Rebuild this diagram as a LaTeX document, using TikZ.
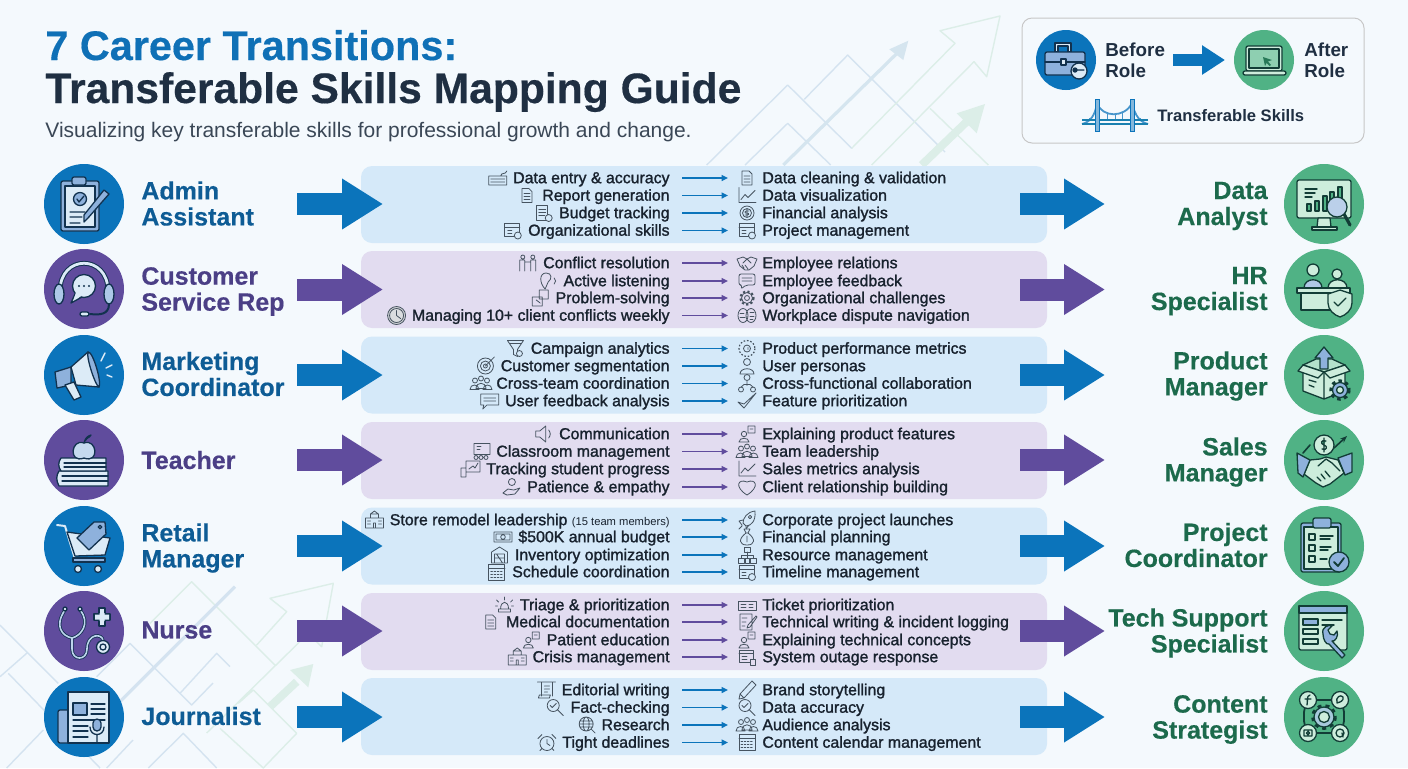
\documentclass[tikz,border=0pt]{standalone}
\usepackage{fontspec}
\setmainfont{Liberation Sans}
\newfontfamily\skillfont[FakeBold=1.4]{Liberation Sans}
\newfontfamily\headfont[BoldFeatures={FakeBold=0.4}]{Liberation Sans}
\usetikzlibrary{arrows.meta}
\definecolor{pagebg}{HTML}{F4F9FD}
\definecolor{roleblue}{HTML}{0B74BB}
\definecolor{rolepurple}{HTML}{604C9D}
\definecolor{rolegreen}{HTML}{50B285}
\definecolor{textblue}{HTML}{0E5C95}
\definecolor{textpurple}{HTML}{4B3F86}
\definecolor{textgreen}{HTML}{1C6A4C}
\definecolor{panelblue}{HTML}{D5E9F9}
\definecolor{panelpurple}{HTML}{E2DCF0}
\definecolor{titleblue}{HTML}{0F70B6}
\definecolor{titledark}{HTML}{1F2F42}
\definecolor{subgrey}{HTML}{3A4756}
\definecolor{skilldark}{HTML}{18222E}
\definecolor{icongrey}{HTML}{465360}
\definecolor{motifblue}{HTML}{D4E3F0}
\definecolor{motifgreen}{HTML}{DCEEE8}
\definecolor{bigline}{HTML}{12324F}
\definecolor{biglight}{HTML}{DCEBF7}
\definecolor{bigmid}{HTML}{8EB1DC}
\definecolor{greenline}{HTML}{123D36}
\definecolor{greenlight}{HTML}{CDEDDC}
\tikzset{
ic/.style={draw=icongrey,line width=.4pt,line join=round,line cap=round},
bigic/.style={draw=bigline,line width=.65pt,line join=round,line cap=round},
grnic/.style={draw=greenline,line width=.65pt,line join=round,line cap=round},
keybdic/.pic={\draw[ic] (-9,-2) rectangle (9,7) (-7,1)--(7,1) (-7,4)--(7,4) (3,-2) .. controls (3,-6) and (8,-3) .. (9,-7);},
docic/.pic={\draw[ic] (-5,-7)--(2,-7)--(5,-4)--(5,7)--(-5,7)--cycle (-3,-2)--(3,-2) (-3,1)--(3,1) (-3,4)--(3,4);},
sheetic/.pic={\draw[ic] (-7,-8) rectangle (4,7) (-5,-4)--(2,-4) (-5,-1)--(2,-1) (-5,2)--(1,2); \draw[ic,fill=panelblue] (5,5) circle (3.5);},
calclockic/.pic={\draw[ic] (-8,-7) rectangle (7,6) (-8,-3)--(7,-3) (-5,0)--(-1,0) (-5,3)--(-1,3); \draw[ic,fill=panelblue] (5,5) circle (3.5);},
chartic/.pic={\draw[ic] (-8,-8)--(-8,7)--(9,7) (-6,4)--(-2,-1)--(1,2)--(8,-5);},
coinic/.pic={\draw[ic] (0,0) circle (7) (0,0) circle (4.5) (0,-3.5)--(0,3.5) (2,-2) .. controls (-3,-3) and (-3,1) .. (0,0) .. controls (3,0) and (2,3) .. (-2,2);},
peopleic/.pic={\draw[ic] (-5,-6) circle (2) (5,-6) circle (2) (-8,8)--(-8,-3)--(-3,-3)--(-3,8) (3,8)--(3,-3)--(8,-3)--(8,8) (-3,-1)--(3,-1);},
earic/.pic={\draw[ic] (-3,8) .. controls (-9,2) and (-9,-8) .. (-2,-8) .. controls (4,-8) and (4,-2) .. (0,1) .. controls (-2,3) and (-1,6) .. (-3,8) (6,-3) .. controls (8,-1) and (8,1) .. (6,3);},
puzzleic/.pic={\draw[ic] (-8,-1) rectangle (2,8) (-1,-8) rectangle (8,1) (-4,2)--(0,5);},
clockic/.pic={\draw[ic,fill=icongrey!25] (0,0) circle (9); \draw[ic,fill=white!80!icongrey] (0,0) circle (7); \draw[ic] (0,-5)--(0,0)--(4,3);},
shakeic/.pic={\draw[ic] (-10,-4)--(-4,-6)--(0,-4)--(4,-6)--(10,-4)--(7,3)--(2,7)--(-2,7)--(-7,3)--cycle (-4,0)--(0,-4)--(4,0) (-3,5)--(-5,2) (1,6)--(-2,2);},
bubbleic/.pic={\draw[ic,rounded corners=1pt] (-8,-7)--(8,-7)--(8,4)--(-1,4)--(-6,8)--(-5,4)--(-8,4)--cycle (-5,-3)--(5,-3) (-5,0)--(5,0);},
gearic/.pic={\draw[draw=icongrey,line width=1.1pt,dash pattern=on 1.1pt off 1.1pt] (0,0) circle (6.5); \draw[ic] (0,0) circle (5.5) (0,0) circle (2.5);},
brainic/.pic={\draw[ic] (-4,0) ellipse (5 and 7) (4,0) ellipse (5 and 7) (-7,-2)--(-3,-2) (-7,2)--(-2,2) (3,-3)--(7,-3) (3,1)--(7,1) (3,4)--(6,4);},
funnelic/.pic={\draw[ic] (-8,-8)--(8,-8)--(2,1)--(2,8)--(-2,6)--(-2,1)--cycle (-6,-5)--(6,-5); \draw[ic,fill=panelblue] (4,5) circle (3);},
targetic/.pic={\draw[ic] (0,0) circle (8) (0,0) circle (5) (0,0) circle (2) (0,0)--(9,-9);},
teamic/.pic={\draw[ic] (-6,-3) circle (2.5) (6,-3) circle (2.5) (0,-5) circle (2.5) (-11,6) .. controls (-11,0) and (-2,0) .. (-2,6)--cycle (2,6) .. controls (2,0) and (11,0) .. (11,6)--cycle (-5,5) .. controls (-5,-2) and (5,-2) .. (5,5)--cycle;},
chatic/.pic={\draw[ic] (-9,-7)--(9,-7)--(9,4)--(-3,4)--(-7,8)--(-6,4)--(-9,4)--cycle (-6,-3)--(6,-3) (-6,0)--(6,0);},
dotgearic/.pic={\draw[draw=icongrey,line width=.6pt,dash pattern=on .8pt off .9pt] (0,0) circle (8); \draw[ic] (0,0) circle (3.5) (1,-1)--(1,1);},
personic/.pic={\draw[ic] (0,-4) circle (3.5) (-7,8) .. controls (-7,1) and (7,1) .. (7,8)--cycle;},
netic/.pic={\draw[ic] (0,-6) circle (3) (-6,6) circle (2.5) (6,6) circle (2.5) (0,-3)--(0,2) (-6,3.5)--(-3,1)--(3,1)--(6,3.5);},
checkic/.pic={\draw[ic] (-9,1)--(-3,7)--(9,-8)--(-3,3)--cycle;},
speakic/.pic={\draw[ic] (-8,-3)--(-4,-3)--(2,-8)--(2,8)--(-4,3)--(-8,3)--cycle (5,-4) .. controls (7,-1) and (7,1) .. (5,4);},
boardic/.pic={\draw[ic] (-7,-8) rectangle (9,3) (-4,-5)--(0,-5) (-4,-2)--(-1,-2) (-5,6) circle (2) (0,6) circle (2) (5,6) circle (2);},
trackic/.pic={\draw[ic] (-5,-8) rectangle (9,3) (-2,0)--(2,-3)--(4,-1)--(7,-6) (-10,8)--(-10,-1)--(-5,-1)--(-5,8)--cycle;},
handic/.pic={\draw[ic] (0,-5) circle (3.5) (-9,6)--(-4,2)--(2,3)--(8,1)--(3,7)--(-5,8)--cycle;},
talkic/.pic={\draw[ic] (-3,0) circle (2.7) (-8,8) .. controls (-8,3) and (2,3) .. (2,8)--cycle (1,-8) rectangle (8,-1) (3,-5)--(6,-5);},
heartic/.pic={\draw[ic] (0,8) .. controls (-13,0) and (-9,-9) .. (0,-5) .. controls (9,-9) and (13,0) .. (0,8)--cycle;},
bldgic/.pic={\draw[ic] (-9,8) rectangle (9,-2) (-4,-2) rectangle (4,-6) (-4,-6)--(0,-9)--(4,-6) (-7,1)--(-4,1) (4,1)--(7,1) (-7,4)--(-4,4) (4,4)--(7,4) (-1,8)--(-1,3)--(1,3)--(1,8);},
cashic/.pic={\draw[ic] (-9,-5) rectangle (9,5) (-7,-3) rectangle (7,3) (0,0) circle (2.3);},
wareic/.pic={\draw[ic] (-8,8)--(-8,-3)--(0,-8)--(8,-3)--(8,8)--cycle (-5,8)--(-5,-1)--(5,-1)--(5,8) (-5,3)--(5,3) (-3,-1)--(3,8);},
calgridic/.pic={\draw[ic] (-8,-8) rectangle (8,8) (-8,-4)--(8,-4); \draw[ic,dash pattern=on .8pt off .8pt] (-6,-1)--(6,-1) (-6,2)--(6,2) (-6,5)--(6,5);},
rocketic/.pic={\draw[ic] (8,-9) .. controls (0,-8) and (-4,-2) .. (-4,3)--(-1,6) .. controls (4,6) and (9,1) .. (8,-9)--cycle (-4,0)--(-8,1)--(-5,5) (-1,6)--(-1,9)--(2,5) (-5,6)--(-8,9) (3,-3) circle (1.7);},
bagic/.pic={\draw[ic] (-3,-8)--(3,-8)--(1,-4)--(-1,-4)--cycle (-1,-4) .. controls (-9,2) and (-8,8) .. (0,8) .. controls (8,8) and (9,2) .. (1,-4) (0,-1)--(0,5);},
orgic/.pic={\draw[ic] (-3,-8) rectangle (3,-3) (0,-3)--(0,3) (-6,3)--(-6,0)--(6,0)--(6,3) (-9,3) rectangle (-3,8) (-2,3) rectangle (2,8) (3,3) rectangle (9,8);},
sirenic/.pic={\draw[ic] (-6,4) rectangle (6,7) (-4,4) .. controls (-4,-5) and (4,-5) .. (4,4) (0,-5)--(0,-8) (-6,-3)--(-8,-5) (6,-3)--(8,-5) (-7,1)--(-9,1) (7,1)--(9,1);},
ticketic/.pic={\draw[ic] (-9,-4) rectangle (9,5) (-6,-1)--(-1,-1) (-6,2)--(-1,2) (2,-1)--(6,-1) (2,2)--(6,2);},
penic/.pic={\draw[ic] (-8,9)--(-7,4)--(5,-9)--(9,-5)--(-3,8)--cycle (-7,4)--(-3,8);},
scrollic/.pic={\draw[ic] (-5,-8)--(9,-8) (-9,-8)--(-5,-8)--(-5,6) (6,-8)--(6,6) (-8,8)--(3,8)--(4,5)--(-7,5)--cycle (-2,-4)--(3,-4) (-2,-1)--(3,-1) (-2,2)--(1,2);},
magic/.pic={\draw[ic] (-2,-2) circle (6) (2,2)--(8,8) (-5,-2)--(-3,0)--(1,-4);},
globeic/.pic={\draw[ic] (0,-1) circle (7) (0,-1) ellipse (3 and 7) (-7,-1)--(7,-1) (-6,-4)--(6,-4) (-6,2)--(6,2) (5,4)--(9,8);},
alarmic/.pic={\draw[ic] (0,1) circle (7) (0,-3)--(0,1)--(3,3) (-9,-4)--(-5,-8) (9,-4)--(5,-8) (-5,6)--(-7,8) (5,6)--(7,8);},
screenic/.pic={\draw[ic] (-8,-7) rectangle (6,5) (-8,-4)--(6,-4) (-5,-1)--(0,-1) (-5,2)--(0,2); \draw[ic,fill=panelpurple] (3,2)--(8,2)--(8,8)--(3,8)--cycle;},
docpenic/.pic={\draw[ic] (-7,-8) rectangle (5,8) (-5,-4)--(0,-4) (-5,0)--(-1,0) (-5,4)--(-2,4) (9,-6)--(1,3)--(0,6)--(3,5)--(10,-5)--cycle;},
adminic/.pic={\draw[bigic,fill=bigmid,rounded corners=1pt] (-23,-23) rectangle (15,27);
\draw[bigic,fill=biglight] (-19,-18) rectangle (11,23);
\draw[bigic,fill=bigmid,rounded corners=1pt] (-12,-27) rectangle (2,-19);
\draw[bigic,fill=bigmid] (-4,-5) circle (6.5);
\draw[bigic] (-7,-5)--(-5,-2)--(0,-8) (-14,8)--(1,8) (-14,13)--(-2,13) (-14,19)--(-4,19);
\draw[bigic,fill=bigmid] (20,-14)--(25,-10)--(4,14)--(0,18)--(0,11)--cycle;},
headsetic/.pic={\draw[line width=2.4pt,draw=bigline] (-24,2) .. controls (-24,-35) and (24,-35) .. (24,2);
\draw[line width=1.4pt,draw=biglight] (-24,2) .. controls (-24,-35) and (24,-35) .. (24,2);
\draw[bigic,fill=bigmid!60!biglight] (-25,5) ellipse (5 and 10) (25,5) ellipse (5 and 10);
\draw[bigic,fill=biglight] (-9,5)--(-13,14)--(-2,8)--cycle (0,-3) circle (11.5);
\fill[biglight] (-8,3)--(-10,10)--(-2,7)--cycle;
\fill[bigline] (-5,-3) circle (1.2) (0,-3) circle (1.2) (5,-3) circle (1.2);
\draw[bigic,line width=1pt] (25,15) .. controls (25,26) and (15,26) .. (6,25);
\draw[bigic,fill=biglight,rounded corners=1pt] (-4,23) rectangle (5,27);},
megaic/.pic={\draw[bigic,fill=bigmid] (-29,-3)--(-13,-8)--(-13,10)--(-27,13)--cycle;
\draw[bigic,fill=biglight] (-19,10)--(-10,7)--(-3,22)--(-10,25)--cycle;
\draw[bigic,fill=biglight] (-13,-8)--(4,-23)--(15,12)--(-8,10)--cycle;
\draw[bigic,fill=bigmid] (4,-23) .. controls (9,-24) and (18,8) .. (15,12) .. controls (12,12) and (2,-17) .. (4,-23)--cycle;
\draw[biglight,line width=.7pt,line cap=round] (17,-14)--(21,-22) (22,-7)--(28,-10) (23,0)--(28,2);},
teacheric/.pic={\draw[bigic,fill=biglight] (-25,11)--(24,11)--(24,26)--(-25,26) .. controls (-28,20) and (-28,16) .. (-25,11)--cycle;
\draw[bigic] (-22,16)--(24,16) (-22,21)--(24,21);
\draw[bigic,fill=biglight] (-23,-2)--(22,-2)--(22,11)--(-23,11) .. controls (-26,7) and (-26,2) .. (-23,-2)--cycle;
\draw[bigic] (-20,3)--(22,3) (-20,7)--(22,7);
\draw[bigic,fill=biglight!70!bigmid] (0,-2) .. controls (-16,4) and (-13,-22) .. (0,-17) .. controls (13,-22) and (16,4) .. (0,-2)--cycle;
\draw[bigic] (0,-17) .. controls (1,-21) and (3,-24) .. (7,-25) (1,-19) .. controls (5,-25) and (7,-22) .. (7,-25);},
cartic/.pic={\draw[bigic,line width=1pt,draw=biglight] (-27,-21)--(-19,-20)--(-9,13)--(21,13);
\draw[bigic,fill=biglight] (-17,-14)--(26,-8)--(21,9)--(-9,10)--cycle;
\draw[bigic,fill=bigmid] (-7,-8)--(10,-24)--(21,-24)--(22,-12)--(5,4)--cycle (16,-19) circle (1.8);
\draw[bigic,fill=bigmid] (-11,12) rectangle (21,16);
\draw[bigic,fill=biglight] (-6,23) circle (3.5) (14,23) circle (3.5);},
nurseic/.pic={\draw[line width=1.6pt,draw=bigline,line cap=round] (-19,-21) .. controls (-30,-5) and (-22,5) .. (-12,7) .. controls (-3,5) and (7,-8) .. (-4,-21) (-12,7)--(-12,18) .. controls (-12,30) and (3,30) .. (3,18) .. controls (3,2) and (19,2) .. (19,10);
\draw[line width=.8pt,draw=biglight!60!bigmid,line cap=round] (-19,-21) .. controls (-30,-5) and (-22,5) .. (-12,7) .. controls (-3,5) and (7,-8) .. (-4,-21) (-12,7)--(-12,18) .. controls (-12,30) and (3,30) .. (3,18) .. controls (3,2) and (19,2) .. (19,10);
\draw[bigic,fill=biglight] (-19,-22) circle (2) (-4,-22) circle (2) (19,16) circle (6.5) (19,16) circle (3);
\draw[bigic,fill=biglight] (15,-23) rectangle (21,-17) (10,-17) rectangle (26,-11) (15,-11) rectangle (21,-5);
\fill[biglight] (15.5,-18) rectangle (20.5,-10) (11,-16.5) rectangle (25,-11.5);},
newsic/.pic={\draw[bigic,fill=bigmid,rounded corners=1pt] (-26,-7) rectangle (-12,26);
\draw[bigic,fill=biglight] (-16,-25) rectangle (25,26);
\draw[bigic,fill=bigmid] (-11,-14) rectangle (3,-2);
\draw[bigic] (7,-13)--(21,-13) (7,-8)--(21,-8) (7,-3)--(21,-3) (-11,3)--(21,3) (-11,9)--(4,9) (-11,14)--(4,14) (-11,20)--(4,20);
\draw[bigic,fill=bigmid,rounded corners=2pt] (9,2) rectangle (17,14);
\draw[bigic] (6,10) .. controls (6,20) and (20,20) .. (20,10) (13,18)--(13,25);},
analystic/.pic={\draw[grnic,fill=greenlight,rounded corners=1pt] (-27,-24) rectangle (27,14);
\draw[grnic,fill=greenlight] (-6,14)--(6,14)--(7,23)--(-7,23)--cycle;
\draw[grnic,fill=greenlight] (-12,23) rectangle (13,26);
\draw[grnic] (-19,-15)--(-7,-15) (-19,-11)--(-9,-11) (-19,-7)--(-12,-7);
\draw[grnic,fill=rolegreen] (-17,0) rectangle (-13,7) (-9,-3) rectangle (-5,7) (-1,-8) rectangle (3,7) (6,-12) rectangle (10,7) (14,-17) rectangle (18,7);
\draw[line width=1.6pt,draw=greenline,line cap=round] (20,10)--(26,21);
\draw[grnic,fill=bigmid!60!white] (13,3) circle (10);},
hric/.pic={\draw[grnic,fill=bigmid!70!white] (-20,-1) .. controls (-20,-12) and (-2,-12) .. (-2,-1)--cycle;
\draw[grnic,fill=greenlight] (-11,-19) circle (6);
\draw[grnic,fill=greenlight] (4,-1) .. controls (4,-12) and (23,-12) .. (23,-1)--cycle (13,-15) circle (5);
\draw[grnic,fill=greenlight] (-23,4) rectangle (8,21);
\draw[grnic,fill=greenlight] (-27,-1) rectangle (26,4);
\draw[grnic,fill=greenlight] (4,5)--(16,1)--(28,5)--(28,14) .. controls (28,21) and (22,26) .. (16,28) .. controls (10,26) and (4,21) .. (4,14)--cycle;
\draw[grnic] (10,13)--(14,17)--(22,9);},
productic/.pic={\draw[grnic,fill=greenlight] (-21,-10)--(0,-3)--(0,24)--(-21,16)--cycle (21,-10)--(0,-3)--(0,24)--(21,16)--cycle;
\draw[grnic,fill=greenlight!80!rolegreen] (-21,-10)--(-8,-16)--(8,-16)--(21,-10)--(0,-3)--cycle;
\draw[grnic,fill=greenlight] (-21,-10)--(-26,-4)--(-6,3)--(0,-3)--cycle (21,-10)--(26,-4)--(6,3)--(0,-3)--cycle;
\draw[grnic,fill=bigmid] (-4,-6)--(-4,-17)--(-9,-17)--(0,-28)--(9,-17)--(4,-17)--(4,-6)--cycle;
\draw[grnic] (-15,5)--(-8,7) (-15,10)--(-10,12);
\draw[draw=greenline,line width=2.2pt,dash pattern=on 1.6pt off 1.6pt] (16,15) circle (8.5);
\draw[grnic,fill=bigmid] (16,15) circle (7.5);
\draw[grnic,fill=greenlight] (16,15) circle (3.5);},
salesic/.pic={\draw[grnic,fill=greenlight] (0,-15) circle (10) (2,-19) .. controls (-3,-21) and (-4,-16) .. (0,-15) .. controls (4,-14) and (3,-9) .. (-2,-11) (0,-22)--(0,-8);
\draw[grnic,line width=.8pt,-{Stealth[length=3.5pt]}] (-21,-7)--(-14,-15) (10,-12)--(23,-24);
\draw[grnic,fill=greenlight] (-14,0)--(-4,-1)--(2,-3)--(14,0)--(20,13)--(6,24)--(-1,27)--(-8,23)--(-20,14)--cycle;
\draw[grnic] (-6,6)--(2,-1)--(8,3)--(16,11) (-7,17)--(-3,21) (-3,14)--(1,19) (1,11)--(6,17);
\draw[grnic,fill=bigmid] (-27,-7)--(-14,0)--(-21,17)--(-26,13)--cycle (28,-7)--(14,-2)--(21,15)--(28,12)--cycle;},
projectic/.pic={\draw[grnic,fill=bigmid,rounded corners=1pt] (-23,-23) rectangle (17,26);
\draw[grnic,fill=greenlight] (-20,-19) rectangle (14,23);
\draw[grnic,fill=bigmid,rounded corners=1pt] (-11,-28) rectangle (7,-18);
\draw[grnic] (-15,-12) rectangle (-9,-6) (-15,-1) rectangle (-9,5) (-15,10) rectangle (-9,16) (-4,-10)--(9,-10) (-4,-7)--(6,-7) (-4,1)--(7,1) (-4,4)--(4,4) (-4,13)--(3,13);
\draw[grnic,fill=bigmid] (15,16) circle (10);
\draw[grnic,line width=.9pt] (10,16)--(14,20)--(20,12);},
techic/.pic={\draw[grnic,fill=greenlight,rounded corners=1pt] (-25,-25) rectangle (23,19);
\draw[grnic,fill=bigmid] (-25,-25) rectangle (23,-18);
\draw[grnic,fill=bigmid] (-21,-12) rectangle (-6,-6);
\draw[grnic] (-21,-2) rectangle (-6,3) (-21,8) rectangle (-6,13) (-2,-11)--(18,-11) (-2,-6)--(10,-6);
\draw[grnic,fill=bigmid] (-1,3) .. controls (-3,-4) and (5,-7) .. (8,-5)--(4,-1)--(6,3)--(10,4)--(13,0) .. controls (15,5) and (11,11) .. (8,10)--(21,24)--(18,27)--(5,13) .. controls (2,14) and (-1,8) .. (-1,3)--cycle;},
contentic/.pic={\draw[grnic,line width=.9pt,rounded corners=6pt] (-20,-17) rectangle (20,16);
\draw[draw=greenline,line width=2.4pt,dash pattern=on 1.8pt off 1.8pt] (0,0) circle (10.5);
\draw[grnic,fill=bigmid!60!greenlight] (0,0) circle (10);
\draw[grnic,fill=greenlight] (0,0) circle (5.5);
\draw[grnic,fill=greenlight] (-16,-17) circle (8.5) (16,-17) circle (8.5) (-16,16) circle (8.5) (16,16) circle (8.5);
\draw[grnic] (-14,-22) .. controls (-18,-21) and (-16,-16) .. (-17,-12) (-19,-18)--(-13,-18) (13,-14) .. controls (11,-20) and (17,-23) .. (19,-20) .. controls (20,-16) and (16,-15) .. (13,-14) (-20,13) rectangle (-12,19) (-16,16) circle (1.6) (16,16) circle (4) (18,16)--(19,20);},
beforeic/.pic={\draw[bigic,fill=biglight] (-11,-8)--(-11,-17)--(5,-17)--(5,-8)--(2,-8)--(2,-14)--(-8,-14)--(-8,-8)--cycle;
\draw[bigic,fill=bigmid,rounded corners=1pt] (-21,-8) rectangle (19,15);
\draw[bigic] (-21,2)--(19,2);
\draw[bigic,fill=biglight] (-5,-1) rectangle (0,5);
\draw[bigic,fill=biglight] (13,11) circle (8);
\draw[bigic,fill=bigline] (9,10) circle (2) (11,10)--(18,10);},
afteric/.pic={\draw[grnic,fill=greenlight,rounded corners=1pt] (-18,-14) rectangle (18,11);
\draw[grnic,fill=rolegreen!50!greenlight] (-15,-11) rectangle (15,8);
\fill[textgreen!80!rolegreen] (-1,-3)--(8,0)--(4,1.5)--(7,5)--(5.5,6)--(2.5,3)--(1,6)--cycle;
\draw[grnic,fill=greenlight,rounded corners=1pt] (-21,11) rectangle (22,15);},
bridgeic/.pic={\draw[line width=.9pt,draw=roleblue!70!motifblue] (-33,8) .. controls (-25,6) and (-20,0) .. (-18,-13) .. controls (-13,2) and (10,2) .. (17,-13) .. controls (20,0) and (25,6) .. (33,8);
\draw[line width=.5pt,draw=roleblue!70!motifblue] (-26,2)--(-26,5) (-8,-4)--(-8,5) (0,-1)--(0,5) (7,-4)--(7,5) (25,2)--(25,5);
\draw[line width=1.1pt,draw=roleblue!80!rolegreen] (-33,4)--(33,4) (-33,8)--(33,8);
\draw[draw=roleblue,line width=.5pt,fill=roleblue!40!motifblue] (-20,-17) rectangle (-16,15) (15,-17) rectangle (19,15);},
sysbox/.style={draw=none,rectangle,inner sep=0pt,minimum width=343pt,minimum height=38.5pt,rounded corners=5.5pt},
rolecirc/.style={circle,draw=none,inner sep=0pt,minimum size=40pt},
legcirc/.style={circle,draw=none,inner sep=0pt,minimum size=30pt},
rolename/.style={font=\headfont\bfseries\fontsize{12.5}{13}\selectfont,inner sep=0pt},
rolel/.style={rolename,anchor=west,align=left},
roler/.style={rolename,anchor=east,align=right},
skillleft/.style={font=\skillfont\fontsize{7.95}{9}\selectfont,text=skilldark,anchor=east,inner sep=0pt,text height=7pt,text depth=1.8pt},
skillright/.style={skillleft,anchor=west},
skillarrow/.style={line width=.65pt,-{Triangle[length=3.2pt,width=3pt]},shorten <=6pt,shorten >=17pt},
bigarrow/.style={line width=11pt,-{Triangle[length=20.5pt,width=24pt]}},
motifline/.style={line width=.7pt,line join=round},
}
\newcommand{\skillline}[7]{
\draw (670,#1) node[skillleft] (s#3) {#5};
\draw (762,#1) node[skillright] (t#3) {#7};
\draw[skillarrow,#2] (s#3.east) -- (t#3.west);
\pic at ([xshift=-7.5pt]s#3.west) {#4};
\pic at ([xshift=-7.5pt]t#3.west) {#6};
}
\newcommand{\rowarrows}[3]{
\coordinate (la#3) at (297,#1);
\coordinate (lb#3) at (383,#1);
\coordinate (ra#3) at (1020,#1);
\coordinate (rb#3) at (1105,#1);
\draw[bigarrow,#2] (la#3) -- (lb#3);
\draw[bigarrow,#2] (ra#3) -- (rb#3);
}
\begin{document}
\begin{tikzpicture}[x=.5pt,y=-.5pt]
\useasboundingbox (0,0) rectangle (1408,768);
\fill[pagebg] (0,0) rectangle (1408,768);
\draw[motifline,motifblue] (706.7,165)--(787.7,85)--(851.7,148.3) (745,165)--(787.7,123.3)--(830.7,165) (804.3,99.3)--(847.7,55)--(945,152);
\draw[motifline,motifgreen] (851.7,148.3)--(955,43.3)--(940,30.7)--(1000,16)--(986.7,76.7)--(974,61.7)--(871.7,165) (930,108.3)--(988.3,165);
\draw[motifblue!85!motifgreen,line width=1.6pt] (783.3,165)--(897,53.3);
\fill[motifblue!85!motifgreen] (908.3,40.7)--(889.3,49.3)--(903.3,60)--cycle;
\draw[motifgreen,line width=4pt] (921.7,165)--(966.7,121.7);
\fill[motifgreen] (985,104)--(956.7,113.3)--(976.7,133.3)--cycle;
\draw[motifline,motifblue] (0,625)--(58.3,683.3) (0,676.7)--(26.7,653.3) (8.3,673.3)--(100,768) (96.7,676.7)--(130,643.3)--(180,693.3)--(216.7,653.3)--(230,666.7) (180,693.3)--(191.7,705)--(213,683) (6.7,768)--(43.3,730) (148.3,768)--(183.3,733.3)--(216.7,768) (106.7,768)--(133,740);
\draw[motifline,motifgreen] (150,623.3)--(191.7,581.7)--(275,665) (256.7,645)--(286.7,611.7)--(270,598.3)--(333.3,583.3)--(321.7,646.7)--(308.3,633.3)--(206.7,733) (220,728.3)--(263.3,768)--(296.7,733.3)--(253.3,690)--(238.3,703.3);
\draw[motifblue,line width=1.6pt] (120,701.7)--(235,586.7);
\draw[motifgreen,line width=4pt] (270,706.7)--(296.7,681.7);
\fill[motifgreen] (313.3,664)--(290,670)--(308.3,687.3)--cycle;
\draw (704,204.5) node[sysbox,fill=panelblue] (panel1) {};
\draw (704,289.5) node[sysbox,fill=panelpurple] (panel2) {};
\draw (704,375) node[sysbox,fill=panelblue] (panel3) {};
\draw (704,460.5) node[sysbox,fill=panelpurple] (panel4) {};
\draw (704,546) node[sysbox,fill=panelblue] (panel5) {};
\draw (704,631.5) node[sysbox,fill=panelpurple] (panel6) {};
\draw (704,716.5) node[sysbox,fill=panelblue] (panel7) {};
\rowarrows{204}{roleblue}{1}
\rowarrows{289.5}{rolepurple}{2}
\rowarrows{375}{roleblue}{3}
\rowarrows{460}{rolepurple}{4}
\rowarrows{546}{roleblue}{5}
\rowarrows{631}{rolepurple}{6}
\rowarrows{717}{roleblue}{7}
\draw (45,60) node[anchor=base west,inner sep=0pt,font=\headfont\bfseries\fontsize{20.7}{22}\selectfont,text=titleblue] (title1) {7 Career Transitions:};
\draw (45,103) node[anchor=base west,inner sep=0pt,font=\headfont\bfseries\fontsize{21.3}{22}\selectfont,text=titledark] (title2) {Transferable Skills Mapping Guide};
\draw (45,137) node[anchor=base west,inner sep=0pt,font=\fontsize{10.5}{12}\selectfont,text=subgrey] (subtitle) {Visualizing key transferable skills for professional growth and change.};
\draw (1193,80.5) node[rectangle,draw=black!22,fill=pagebg,line width=.5pt,inner sep=0pt,minimum width=171pt,minimum height=62.5pt,rounded corners=5pt] (legend) {};
\draw (1066,60) node[legcirc,fill=roleblue] (beforecirc) {};
\pic at (beforecirc) {beforeic};
\draw (1105,60) node[anchor=west,align=left,inner sep=0pt,font=\bfseries\fontsize{9.4}{10.5}\selectfont,text=titledark] (before) {Before\\Role};
\draw (1264,60) node[legcirc,fill=rolegreen] (aftercirc) {};
\pic at (aftercirc) {afteric};
\draw (1304,60) node[anchor=west,align=left,inner sep=0pt,font=\bfseries\fontsize{9.4}{10.5}\selectfont,text=titledark] (after) {After\\Role};
\coordinate (lega) at (1173,60);
\coordinate (legb) at (1225,60);
\draw[roleblue,line width=6pt,-{Triangle[length=11.5pt,width=14pt]}] (lega) -- (legb);
\pic at (1115,116) {bridgeic};
\draw (1157,116) node[anchor=west,inner sep=0pt,font=\bfseries\fontsize{8.3}{10}\selectfont,text=titledark] (bridge) {Transferable Skills};
\draw (84,204) node[rolecirc,fill=roleblue] (admin) {};
\pic at (admin) {adminic};
\draw (141,203.5) node[rolel,text=textblue] (adminname) {Admin\\Assistant};
\draw (84,289) node[rolecirc,fill=rolepurple] (service) {};
\pic at (service) {headsetic};
\draw (141,291.5) node[rolel,text=textpurple] (servicename) {Customer\\Service Rep};
\draw (84,375) node[rolecirc,fill=roleblue] (marketing) {};
\pic at (marketing) {megaic};
\draw (141,374) node[rolel,text=textblue] (marketingname) {Marketing\\Coordinator};
\draw (84,460) node[rolecirc,fill=rolepurple] (teacher) {};
\pic at (teacher) {teacheric};
\draw (141,460) node[rolel,text=textpurple] (teachername) {Teacher};
\draw (84,546) node[rolecirc,fill=roleblue] (retail) {};
\pic at (retail) {cartic};
\draw (141,548) node[rolel,text=textblue] (retailname) {Retail\\Manager};
\draw (84,631) node[rolecirc,fill=rolepurple] (nurse) {};
\pic at (nurse) {nurseic};
\draw (141,630) node[rolel,text=textpurple] (nursename) {Nurse};
\draw (84,717) node[rolecirc,fill=roleblue] (journalist) {};
\pic at (journalist) {newsic};
\draw (141,716) node[rolel,text=textblue] (journalistname) {Journalist};
\draw (1324,204) node[rolecirc,fill=rolegreen] (analyst) {};
\pic at (analyst) {analystic};
\draw (1268,206) node[roler,text=textgreen] (analystname) {Data\\Analyst};
\draw (1324,289) node[rolecirc,fill=rolegreen] (hr) {};
\pic at (hr) {hric};
\draw (1268,291) node[roler,text=textgreen] (hrname) {HR\\Specialist};
\draw (1324,375) node[rolecirc,fill=rolegreen] (product) {};
\pic at (product) {productic};
\draw (1268,376) node[roler,text=textgreen] (productname) {Product\\Manager};
\draw (1324,460) node[rolecirc,fill=rolegreen] (sales) {};
\pic at (sales) {salesic};
\draw (1268,462) node[roler,text=textgreen] (salesname) {Sales\\Manager};
\draw (1324,546) node[rolecirc,fill=rolegreen] (project) {};
\pic at (project) {projectic};
\draw (1268,545) node[roler,text=textgreen] (projectname) {Project\\Coordinator};
\draw (1324,631) node[rolecirc,fill=rolegreen] (tech) {};
\pic at (tech) {techic};
\draw (1268,633) node[roler,text=textgreen] (techname) {Tech Support\\Specialist};
\draw (1324,717) node[rolecirc,fill=rolegreen] (content) {};
\pic at (content) {contentic};
\draw (1268,719.5) node[roler,text=textgreen] (contentname) {Content\\Strategist};
\skillline{178}{roleblue}{11}{keybdic}{Data entry \& accuracy}{docic}{Data cleaning \& validation}
\skillline{195.5}{roleblue}{12}{docic}{Report generation}{chartic}{Data visualization}
\skillline{213}{roleblue}{13}{sheetic}{Budget tracking}{coinic}{Financial analysis}
\skillline{230.5}{roleblue}{14}{calclockic}{Organizational skills}{calclockic}{Project management}
\skillline{263}{rolepurple}{21}{peopleic}{Conflict resolution}{shakeic}{Employee relations}
\skillline{281}{rolepurple}{22}{earic}{Active listening}{bubbleic}{Employee feedback}
\skillline{298}{rolepurple}{23}{puzzleic}{Problem-solving}{gearic}{Organizational challenges}
\skillline{315.5}{rolepurple}{24}{clockic}{Managing 10+ client conflicts weekly}{brainic}{Workplace dispute navigation}
\skillline{348.5}{roleblue}{31}{funnelic}{Campaign analytics}{dotgearic}{Product performance metrics}
\skillline{366}{roleblue}{32}{targetic}{Customer segmentation}{personic}{User personas}
\skillline{383.5}{roleblue}{33}{teamic}{Cross-team coordination}{netic}{Cross-functional collaboration}
\skillline{401}{roleblue}{34}{chatic}{User feedback analysis}{checkic}{Feature prioritization}
\skillline{434}{rolepurple}{41}{speakic}{Communication}{talkic}{Explaining product features}
\skillline{451.5}{rolepurple}{42}{boardic}{Classroom management}{teamic}{Team leadership}
\skillline{469}{rolepurple}{43}{trackic}{Tracking student progress}{chartic}{Sales metrics analysis}
\skillline{487}{rolepurple}{44}{handic}{Patience \& empathy}{heartic}{Client relationship building}
\skillline{520}{roleblue}{51}{bldgic}{Store remodel leadership {\fontspec{Liberation Sans}\fontsize{5.6}{7}\selectfont(15 team members)}}{rocketic}{Corporate project launches}
\skillline{537}{roleblue}{52}{cashic}{\$500K annual budget}{bagic}{Financial planning}
\skillline{555}{roleblue}{53}{wareic}{Inventory optimization}{orgic}{Resource management}
\skillline{572}{roleblue}{54}{calgridic}{Schedule coordination}{calclockic}{Timeline management}
\skillline{605}{rolepurple}{61}{sirenic}{Triage \& prioritization}{ticketic}{Ticket prioritization}
\skillline{622}{rolepurple}{62}{docic}{Medical documentation}{docpenic}{Technical writing \& incident logging}
\skillline{640}{rolepurple}{63}{talkic}{Patient education}{talkic}{Explaining technical concepts}
\skillline{657}{rolepurple}{64}{bldgic}{Crisis management}{screenic}{System outage response}
\skillline{690}{roleblue}{71}{scrollic}{Editorial writing}{penic}{Brand storytelling}
\skillline{707.5}{roleblue}{72}{magic}{Fact-checking}{magic}{Data accuracy}
\skillline{725}{roleblue}{73}{globeic}{Research}{teamic}{Audience analysis}
\skillline{742.5}{roleblue}{74}{alarmic}{Tight deadlines}{calgridic}{Content calendar management}
\end{tikzpicture}
\end{document}
